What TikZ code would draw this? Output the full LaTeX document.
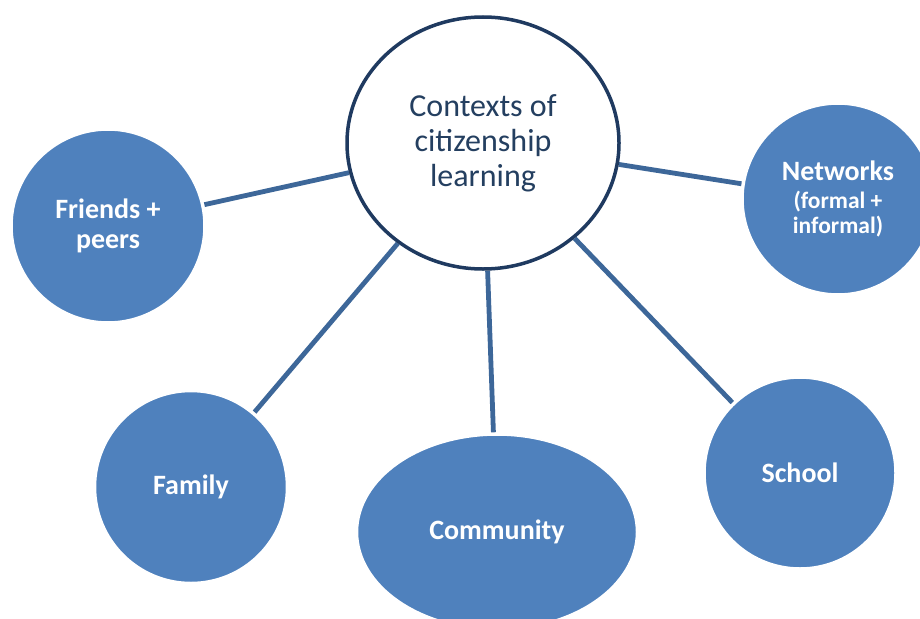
\documentclass[tikz,border=0pt]{standalone}
\usepackage{fontspec}
\setmainfont{Carlito}
\usetikzlibrary{shapes.geometric,backgrounds}
\definecolor{bubble}{HTML}{4F81BD}
\definecolor{navy}{HTML}{1F3A60}
\definecolor{ctrtext}{HTML}{243F60}
\definecolor{linkc}{HTML}{3D6799}
\tikzset{
  bubble/.style={circle, fill=bubble, draw=white, line width=1.5pt, inner sep=0pt,
    text=white, align=center, font=\bfseries\fontsize{28}{30}\selectfont},
  hub/.style={ellipse, fill=white, draw=navy, line width=3.5pt, inner sep=0pt,
    text=ctrtext, align=center, font=\fontsize{32}{35}\selectfont},
  link/.style={draw=linkc, line width=4.8pt, shorten >=2pt}
}
\begin{document}
\begin{tikzpicture}[x=1pt,y=-1pt]
\useasboundingbox (0,0) rectangle (920,618);
\node[hub, minimum width=272pt, minimum height=252pt] (ctr) at (483,143) {Contexts of\\citizenship\\learning};
\node[bubble, minimum size=192pt] (fr) at (108,226) {Friends +\\peers};
\node[bubble, minimum size=190pt] (nw) at (838,199) {Networks\\[-2pt]{\fontsize{23.5}{25}\selectfont (formal +}\\[-5pt]{\fontsize{23.5}{25}\selectfont informal)}};
\node[bubble, minimum size=191pt] (fa) at (191,487) {Family};
\node[bubble, ellipse, minimum width=279pt, minimum height=194pt] (co) at (497,532) {Community};
\node[bubble, minimum size=190pt] (sc) at (800,473) {School};
\begin{scope}[on background layer]
\draw[link] (ctr) -- (fr);
\draw[link] (ctr) -- (nw);
\draw[link] (ctr) -- (fa);
\draw[link] (ctr) -- (co);
\draw[link] (ctr) -- (sc);
\end{scope}
\end{tikzpicture}
\end{document}
